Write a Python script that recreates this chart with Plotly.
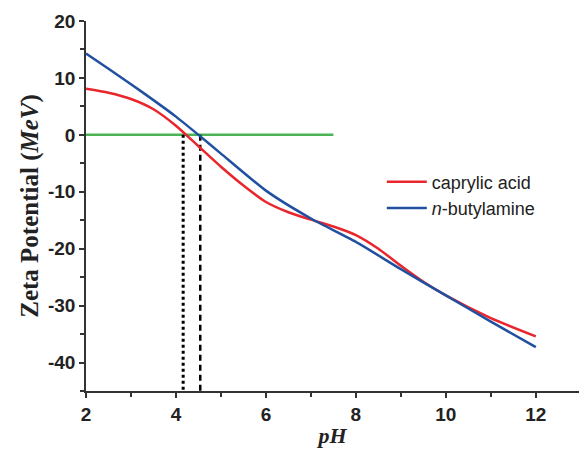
import plotly.graph_objects as go

# Zeta potential vs pH for the two surface modifiers
ph_caprylic = [2, 2.5, 3, 3.5, 4, 4.5, 5, 5.5, 6, 6.5, 7, 7.5, 8, 8.5, 9, 9.5, 10, 11, 12]
caprylic_acid = [8.1, 7.4, 6.3, 4.5, 1.6, -2.0, -5.6, -8.9, -11.8, -13.6, -14.9, -16.1,
                 -17.6, -20.0, -23.0, -25.8, -28.2, -32.2, -35.4]
ph_butylamine = [2, 2.5, 3, 3.5, 4, 4.5, 5, 6, 7, 8, 9, 10, 11, 12]
n_butylamine = [14.3, 11.6, 8.9, 6.1, 3.2, 0.0, -3.3, -9.8, -14.7, -18.8, -23.6, -28.2,
                -32.8, -37.3]

# isoelectric points and zero reference line
iep_caprylic = 4.16
iep_butylamine = 4.54
zero_line_x = [2, 7.5]
zero_line_y = [0, 0]

x_ticks = [2, 4, 6, 8, 10, 12]
y_ticks = [20, 10, 0, -10, -20, -30, -40]
y_tick_text = ["20", "10", "0", "-10", "-20", "-30", "-40"]

y_min, y_max = -45, 20

fig = go.Figure()

fig.add_trace(go.Scatter(
    x=zero_line_x, y=zero_line_y, mode="lines",
    line=dict(color="#4cb454", width=2.5), showlegend=False, hoverinfo="skip"))

fig.add_trace(go.Scatter(
    x=[iep_caprylic, iep_caprylic], y=[0, y_min], mode="lines",
    line=dict(color="black", width=3, dash="dot"), showlegend=False))
fig.add_trace(go.Scatter(
    x=[iep_butylamine, iep_butylamine], y=[0, y_min], mode="lines",
    line=dict(color="black", width=2.5, dash="6px,4px"), showlegend=False))

fig.add_trace(go.Scatter(
    x=ph_caprylic, y=caprylic_acid, mode="lines", name="caprylic acid",
    line=dict(color="#e8262c", width=2.5, shape="spline", smoothing=0.6)))
fig.add_trace(go.Scatter(
    x=ph_butylamine, y=n_butylamine, mode="lines", name="<i>n</i>-butylamine",
    line=dict(color="#2150a0", width=2.5, shape="spline", smoothing=0.6)))

axis_common = dict(
    showgrid=False, zeroline=False, showline=True,
    linecolor="#333333", linewidth=1.5,
    ticks="outside", ticklen=5, tickwidth=1.5, tickcolor="#333333",
    tickfont=dict(family="Liberation Sans, Arial", size=19, color="#222222", weight="bold"),
    minor=dict(ticks="outside", ticklen=4, tickwidth=1.5, tickcolor="#333333"),
)

fig.update_xaxes(
    range=[2, 12.96], tickvals=x_ticks,
    minor_dtick=1,
    title=dict(text="<i>pH</i>", standoff=4,
               font=dict(family="Liberation Serif, Times New Roman", size=22,
                         color="#222222", weight="bold")),
    **axis_common)
fig.update_yaxes(
    range=[y_min, y_max], tickvals=y_ticks, ticktext=y_tick_text,
    minor_dtick=5, ticksuffix="  ",
    title=dict(text="Zeta Potential (<i>MeV</i>)", standoff=2,
               font=dict(family="Liberation Serif, Times New Roman", size=25,
                         color="#222222", weight="bold")),
    **axis_common)

fig.update_layout(
    width=579, height=450,
    margin=dict(l=86, r=0, t=21, b=59),
    plot_bgcolor="white", paper_bgcolor="white",
    legend=dict(x=0.6, y=0.615, xanchor="left", yanchor="top",
                bgcolor="rgba(0,0,0,0)",
                font=dict(family="Liberation Sans, Arial", size=18, color="#222222"),
                tracegroupgap=0, itemwidth=40),
)

fig.write_html("out.html")
